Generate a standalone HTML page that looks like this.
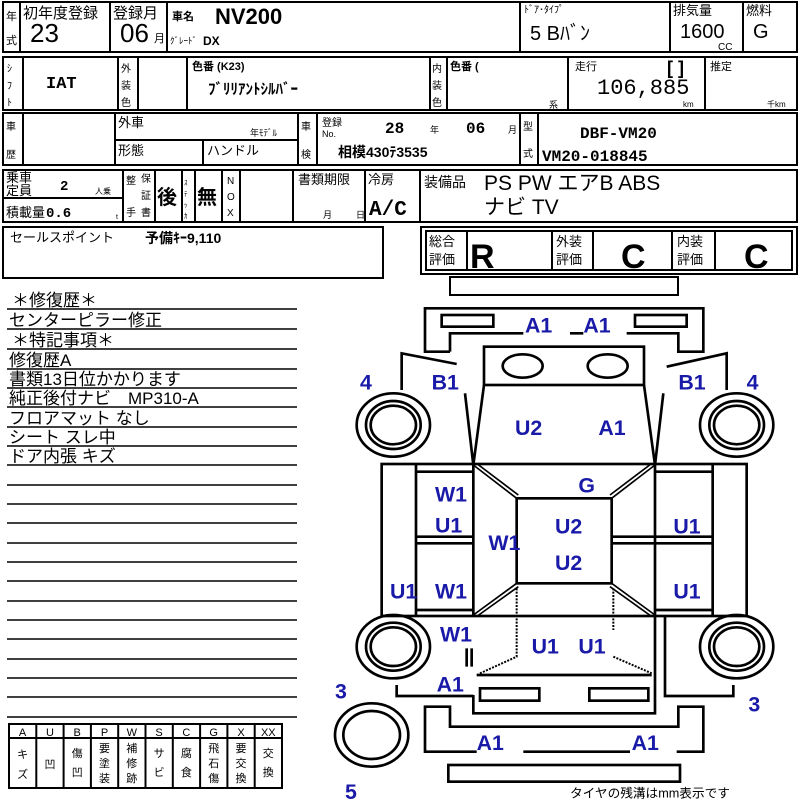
<!DOCTYPE html>
<html><head><meta charset="utf-8"><style>
html,body{margin:0;padding:0;background:#fff}
svg{display:block}
text{font-family:"Liberation Sans","Noto Sans CJK JP",sans-serif;fill:#000}
.b{font-weight:bold}
.m{font-family:"Liberation Mono","Noto Sans CJK JP",monospace}
</style></head><body>
<svg width="800" height="800" viewBox="0 0 800 800" xmlns="http://www.w3.org/2000/svg">
<g fill="none" stroke="#000" stroke-width="2">
<rect x="3" y="2" width="794" height="50"/>
<line x1="20" y1="2" x2="20" y2="52"/><line x1="110" y1="2" x2="110" y2="52"/><line x1="167" y1="2" x2="167" y2="52"/>
<line x1="520" y1="2" x2="520" y2="52"/><line x1="670" y1="2" x2="670" y2="52"/><line x1="743" y1="2" x2="743" y2="52"/>
<rect x="3" y="57" width="794" height="53"/>
<line x1="23" y1="57" x2="23" y2="110"/><line x1="118" y1="57" x2="118" y2="110"/><line x1="138" y1="57" x2="138" y2="110"/>
<line x1="187" y1="57" x2="187" y2="110"/><line x1="430" y1="57" x2="430" y2="110"/><line x1="447" y1="57" x2="447" y2="110"/>
<line x1="568" y1="57" x2="568" y2="110"/><line x1="705" y1="57" x2="705" y2="110"/>
<rect x="3" y="113" width="794" height="52"/>
<line x1="23" y1="113" x2="23" y2="165"/><line x1="115" y1="113" x2="115" y2="165"/><line x1="115" y1="140" x2="298" y2="140"/>
<line x1="203" y1="140" x2="203" y2="165"/><line x1="298" y1="113" x2="298" y2="165"/><line x1="317" y1="113" x2="317" y2="165"/>
<line x1="520" y1="113" x2="520" y2="165"/><line x1="538" y1="113" x2="538" y2="165"/>
<rect x="3" y="170" width="794" height="52"/>
<line x1="3" y1="198" x2="123" y2="198"/><line x1="123" y1="170" x2="123" y2="222"/><line x1="155" y1="170" x2="155" y2="222"/>
<line x1="182" y1="170" x2="182" y2="222"/><line x1="195" y1="170" x2="195" y2="222"/><line x1="222" y1="170" x2="222" y2="222"/>
<line x1="240" y1="170" x2="240" y2="222"/><line x1="293" y1="170" x2="293" y2="222"/><line x1="365" y1="170" x2="365" y2="222"/>
<line x1="420" y1="170" x2="420" y2="222"/>
<rect x="3" y="227" width="380" height="51"/>
<rect x="421" y="227" width="376" height="47"/>
<rect x="426" y="231" width="366" height="39"/>
<line x1="467" y1="231" x2="467" y2="270"/><line x1="552" y1="231" x2="552" y2="270"/><line x1="593" y1="231" x2="593" y2="270"/>
<line x1="672" y1="231" x2="672" y2="270"/><line x1="715" y1="231" x2="715" y2="270"/>
<rect x="450" y="277" width="228" height="18"/>
<g stroke-width="1.5">
<line x1="7" y1="309" x2="297" y2="309"/><line x1="7" y1="329" x2="297" y2="329"/><line x1="7" y1="349" x2="297" y2="349"/>
<line x1="7" y1="369" x2="297" y2="369"/><line x1="7" y1="388" x2="297" y2="388"/><line x1="7" y1="407" x2="297" y2="407"/>
<line x1="7" y1="427" x2="297" y2="427"/><line x1="7" y1="446" x2="297" y2="446"/><line x1="7" y1="465" x2="297" y2="465"/>
<line x1="7" y1="485" x2="297" y2="485"/><line x1="7" y1="504" x2="297" y2="504"/><line x1="7" y1="523" x2="297" y2="523"/>
<line x1="7" y1="543" x2="297" y2="543"/><line x1="7" y1="562" x2="297" y2="562"/><line x1="7" y1="581" x2="297" y2="581"/>
<line x1="7" y1="601" x2="297" y2="601"/><line x1="7" y1="620" x2="297" y2="620"/><line x1="7" y1="639" x2="297" y2="639"/>
<line x1="7" y1="659" x2="297" y2="659"/><line x1="7" y1="678" x2="297" y2="678"/><line x1="7" y1="697" x2="297" y2="697"/>
<line x1="7" y1="717" x2="297" y2="717"/>
</g>
<rect x="9" y="724" width="273" height="64"/>
<line x1="9" y1="738" x2="282" y2="738"/>
<line x1="36.3" y1="724" x2="36.3" y2="788"/><line x1="63.6" y1="724" x2="63.6" y2="788"/><line x1="90.9" y1="724" x2="90.9" y2="788"/>
<line x1="118.2" y1="724" x2="118.2" y2="788"/><line x1="145.5" y1="724" x2="145.5" y2="788"/><line x1="172.8" y1="724" x2="172.8" y2="788"/>
<line x1="200.1" y1="724" x2="200.1" y2="788"/><line x1="227.4" y1="724" x2="227.4" y2="788"/><line x1="254.7" y1="724" x2="254.7" y2="788"/>
</g>

<text x="6" y="20" font-size="11">年</text><text x="6" y="44" font-size="11">式</text>
<text x="23" y="18" font-size="15">初年度登録</text><text x="30" y="42" font-size="26">23</text>
<text x="113" y="18" font-size="15">登録月</text><text x="120" y="42" font-size="26">06</text><text x="154" y="42" font-size="11">月</text>
<text x="172" y="20" font-size="11" class="b">車名</text><text x="215" y="24" font-size="22" class="b">NV200</text>
<text x="170" y="44" font-size="9">ｸﾞﾚｰﾄﾞ</text><text x="203" y="45" font-size="12" class="b">DX</text>
<text x="524" y="13" font-size="10">ﾄﾞｱ･ﾀｲﾌﾟ</text><text x="530" y="40" font-size="20">5 Bﾊﾞﾝ</text>
<text x="673" y="15" font-size="13">排気量</text><text x="680" y="38" font-size="20">1600</text><text x="718" y="50" font-size="10">CC</text>
<text x="746" y="15" font-size="13">燃料</text><text x="753" y="38" font-size="20">G</text>
<text x="7" y="72" font-size="10">ｼ</text><text x="7" y="89" font-size="10">ﾌ</text><text x="7" y="106" font-size="10">ﾄ</text>
<text x="46" y="88" font-size="17" class="b m">IAT</text>
<text x="121" y="72" font-size="10">外</text><text x="121" y="89" font-size="10">装</text><text x="121" y="106" font-size="10">色</text>
<text x="192" y="70" font-size="11" class="b">色番 (K23)</text><text x="208" y="94" font-size="15" class="b">ﾌﾞﾘﾘｱﾝﾄｼﾙﾊﾞｰ</text>
<text x="432" y="72" font-size="10">内</text><text x="432" y="89" font-size="10">装</text><text x="432" y="106" font-size="10">色</text>
<text x="450" y="70" font-size="11" class="b">色番 (</text><text x="549" y="108" font-size="9">系</text>
<text x="575" y="70" font-size="11">走行</text><text x="667" y="74" font-size="18" class="b">[ ]</text>
<text x="597" y="94" font-size="22" class="m">106,885</text><text x="683" y="107" font-size="8">km</text>
<text x="710" y="70" font-size="11">推定</text><text x="767" y="107" font-size="8">千km</text>
<text x="6" y="130" font-size="10">車</text><text x="6" y="158" font-size="10">歴</text>
<text x="118" y="127" font-size="13">外車</text><text x="250" y="136" font-size="9">年ﾓﾃﾞﾙ</text>
<text x="118" y="155" font-size="13">形態</text><text x="207" y="155" font-size="13">ハンドル</text>
<text x="301" y="130" font-size="10">車</text><text x="301" y="158" font-size="10">検</text>
<text x="322" y="126" font-size="10">登録</text><text x="322" y="137" font-size="9">No.</text>
<text x="385" y="133" font-size="16" class="b m">28</text><text x="430" y="133" font-size="9">年</text>
<text x="466" y="133" font-size="16" class="b m">06</text><text x="508" y="133" font-size="9">月</text>
<text x="338" y="157" font-size="14" class="b">相模430ﾃ3535</text>
<text x="523" y="130" font-size="10">型</text><text x="523" y="157" font-size="10">式</text>
<text x="580" y="138" font-size="16" class="b m">DBF-VM20</text>
<text x="542" y="161" font-size="16" class="b m">VM20-018845</text>
<text x="6" y="182" font-size="13">乗車</text><text x="6" y="195" font-size="13">定員</text>
<text x="60" y="190" font-size="14" class="b m">2</text><text x="95" y="194" font-size="8">人乗</text>
<text x="6" y="217" font-size="13">積載量</text><text x="46" y="217" font-size="14" class="b m">0.6</text><text x="116" y="219" font-size="7">t</text>
<text x="126" y="184" font-size="10">整</text><text x="126" y="216" font-size="10">手</text>
<text x="141" y="182" font-size="10">保</text><text x="141" y="199" font-size="10">証</text><text x="141" y="216" font-size="10">書</text>
<text x="157" y="204" font-size="20" class="b">後</text>
<text x="184" y="185" font-size="7">ｽ</text><text x="184" y="196" font-size="7">ﾃ</text><text x="184" y="207" font-size="7">ｯ</text><text x="184" y="218" font-size="7">ｶ</text>
<text x="197" y="204" font-size="20" class="b">無</text>
<text x="227" y="184" font-size="10">N</text><text x="227" y="200" font-size="10">O</text><text x="227" y="216" font-size="10">X</text>
<text x="298" y="184" font-size="13">書類期限</text><text x="323" y="218" font-size="9">月</text><text x="356" y="218" font-size="9">日</text>
<text x="368" y="184" font-size="13">冷房</text><text x="369" y="215" font-size="21" class="b m">A/C</text>
<text x="424" y="187" font-size="14">装備品</text><text x="484" y="190" font-size="21">PS PW エアB ABS</text>
<text x="484" y="214" font-size="21">ナビ TV</text>
<text x="10" y="242" font-size="13">セールスポイント</text><text x="145" y="243" font-size="14" class="b">予備ｷｰ9,110</text>
<text x="429" y="246" font-size="13">総合</text><text x="429" y="264" font-size="13">評価</text>
<text x="470" y="268" font-size="34" class="b">R</text>
<text x="556" y="246" font-size="13">外装</text><text x="556" y="264" font-size="13">評価</text>
<text x="621" y="268" font-size="34" class="b">C</text>
<text x="677" y="246" font-size="13">内装</text><text x="677" y="264" font-size="13">評価</text>
<text x="744" y="268" font-size="34" class="b">C</text>
<g font-size="17">
<text x="12" y="306">＊修復歴＊</text>
<text x="9" y="326">センターピラー修正</text>
<text x="12" y="346">＊特記事項＊</text>
<text x="9" y="366">修復歴A</text>
<text x="9" y="385">書類13日位かかります</text>
<text x="9" y="404">純正後付ナビ　MP310-A</text>
<text x="9" y="424">フロアマット なし</text>
<text x="9" y="443">シート スレ中</text>
<text x="9" y="462">ドア内張 キズ</text>
</g>
<g font-size="11" text-anchor="middle">
<text x="22.6" y="736">A</text><text x="50" y="736">U</text><text x="77.2" y="736">B</text><text x="104.5" y="736">P</text><text x="131.8" y="736">W</text>
<text x="159.1" y="736">S</text><text x="186.4" y="736">C</text><text x="213.7" y="736">G</text><text x="241" y="736">X</text><text x="268.3" y="736">XX</text>
</g>
<g font-size="11" text-anchor="middle">
<text x="22.6" y="758">キ</text><text x="22.6" y="778">ズ</text>
<text x="50" y="768">凹</text>
<text x="77.2" y="757">傷</text><text x="77.2" y="776">凹</text>
<text x="104.5" y="752">要</text><text x="104.5" y="767">塗</text><text x="104.5" y="782">装</text>
<text x="131.8" y="752">補</text><text x="131.8" y="767">修</text><text x="131.8" y="782">跡</text>
<text x="159.1" y="757">サ</text><text x="159.1" y="776">ビ</text>
<text x="186.4" y="757">腐</text><text x="186.4" y="776">食</text>
<text x="213.7" y="752">飛</text><text x="213.7" y="767">石</text><text x="213.7" y="782">傷</text>
<text x="241" y="752">要</text><text x="241" y="767">交</text><text x="241" y="782">換</text>
<text x="268.3" y="757">交</text><text x="268.3" y="776">換</text>
</g>

<g transform="translate(330,290) scale(0.33333)">
<g fill="none" stroke="#000" stroke-width="8">
<path d="M360,185 H285 V55 H1120 V185 H1045 V130 H890 M760,130 H720 M580,130 H360 V185"/>
<rect x="335" y="75" width="155" height="35"/><rect x="915" y="75" width="155" height="35"/>
<rect x="462" y="170" width="480" height="115"/>
<ellipse cx="578" cy="228" rx="60" ry="35"/><ellipse cx="833" cy="228" rx="60" ry="35"/>
<path d="M462,285 L430,525 M942,285 L975,525"/>
<path d="M215,300 V190 L380,222 M1190,300 V190 L1010,230"/>
<path d="M405,310 L430,525 M1000,310 L975,525"/>
<rect x="155" y="522" width="1095" height="456"/>
<path d="M258,525 V975 M1148,525 V975"/>
<path d="M258,545 H430 M975,545 H1148 M258,960 H430 M975,960 H1148"/>
<path d="M430,525 V975 M975,525 V975"/>
<rect x="560" y="625" width="285" height="255"/>
<path d="M258,740 H430 M258,760 H430 M845,740 H1148 M845,760 H1148"/>
<path d="M440,1155 H965 M430,1215 V1270 H975 V975 M410,1075 V1130 M425,1075 V1130"/>
<rect x="450" y="1195" width="178" height="37"/><rect x="778" y="1195" width="177" height="37"/>
<path d="M200,1185 V1218 H430 M1005,980 V1218 H1210 V1185"/>
<path d="M440,1385 H285 V1250 H360 V1310 H1045 V1250 H1120 V1385 H1040 M900,1385 H580"/>
<rect x="355" y="1425" width="695" height="50"/>
<ellipse cx="190" cy="405" rx="110" ry="95"/><ellipse cx="190" cy="405" rx="82" ry="72"/><ellipse cx="190" cy="405" rx="68" ry="58"/>
<ellipse cx="1220" cy="405" rx="110" ry="95"/><ellipse cx="1220" cy="405" rx="82" ry="72"/><ellipse cx="1220" cy="405" rx="68" ry="58"/>
<ellipse cx="190" cy="1070" rx="110" ry="95"/><ellipse cx="190" cy="1070" rx="82" ry="72"/><ellipse cx="190" cy="1070" rx="68" ry="58"/>
<ellipse cx="1220" cy="1070" rx="110" ry="95"/><ellipse cx="1220" cy="1070" rx="82" ry="72"/><ellipse cx="1220" cy="1070" rx="68" ry="58"/>
<ellipse cx="125" cy="1335" rx="110" ry="95"/><ellipse cx="125" cy="1335" rx="85" ry="72"/>
</g>
<g fill="none" stroke="#000" stroke-width="5">
<path d="M430,525 L560,625 M442,522 L565,615 M975,525 L845,625 M963,522 L840,615 M430,975 L560,880 M442,978 L565,890 M975,975 L845,880 M963,978 L840,890"/>
</g>
<g fill="none" stroke="#000" stroke-width="6" stroke-dasharray="6,4">
<path d="M560,895 V1100 L450,1150 M850,895 V1020 M850,1100 L965,1150"/>
</g>
<g font-size="64" font-weight="bold">
<text x="585" y="128" style="fill:#1a1aa8">A1</text><text x="760" y="128" style="fill:#1a1aa8">A1</text>
<text x="90" y="298" style="fill:#1a1aa8">4</text><text x="305" y="298" style="fill:#1a1aa8">B1</text>
<text x="1045" y="298" style="fill:#1a1aa8">B1</text><text x="1250" y="298" style="fill:#1a1aa8">4</text>
<text x="555" y="435" style="fill:#1a1aa8">U2</text><text x="805" y="435" style="fill:#1a1aa8">A1</text>
<text x="745" y="608" style="fill:#1a1aa8">G</text>
<text x="315" y="635" style="fill:#1a1aa8">W1</text><text x="315" y="727" style="fill:#1a1aa8">U1</text>
<text x="475" y="780" style="fill:#1a1aa8">W1</text>
<text x="675" y="730" style="fill:#1a1aa8">U2</text><text x="675" y="840" style="fill:#1a1aa8">U2</text>
<text x="1030" y="730" style="fill:#1a1aa8">U1</text>
<text x="180" y="925" style="fill:#1a1aa8">U1</text><text x="315" y="925" style="fill:#1a1aa8">W1</text>
<text x="1030" y="925" style="fill:#1a1aa8">U1</text>
<text x="330" y="1055" style="fill:#1a1aa8">W1</text>
<text x="605" y="1090" style="fill:#1a1aa8">U1</text><text x="745" y="1090" style="fill:#1a1aa8">U1</text>
<text x="320" y="1205" style="fill:#1a1aa8">A1</text>
<text x="15" y="1225" style="fill:#1a1aa8">3</text><text x="1255" y="1265" style="fill:#1a1aa8">3</text>
<text x="440" y="1380" style="fill:#1a1aa8">A1</text><text x="905" y="1380" style="fill:#1a1aa8">A1</text>
<text x="45" y="1527" style="fill:#1a1aa8">5</text>
</g>
<text x="720" y="1522" font-size="38">タイヤの残溝はmm表示です</text>
</g>
</svg>
</body></html>
